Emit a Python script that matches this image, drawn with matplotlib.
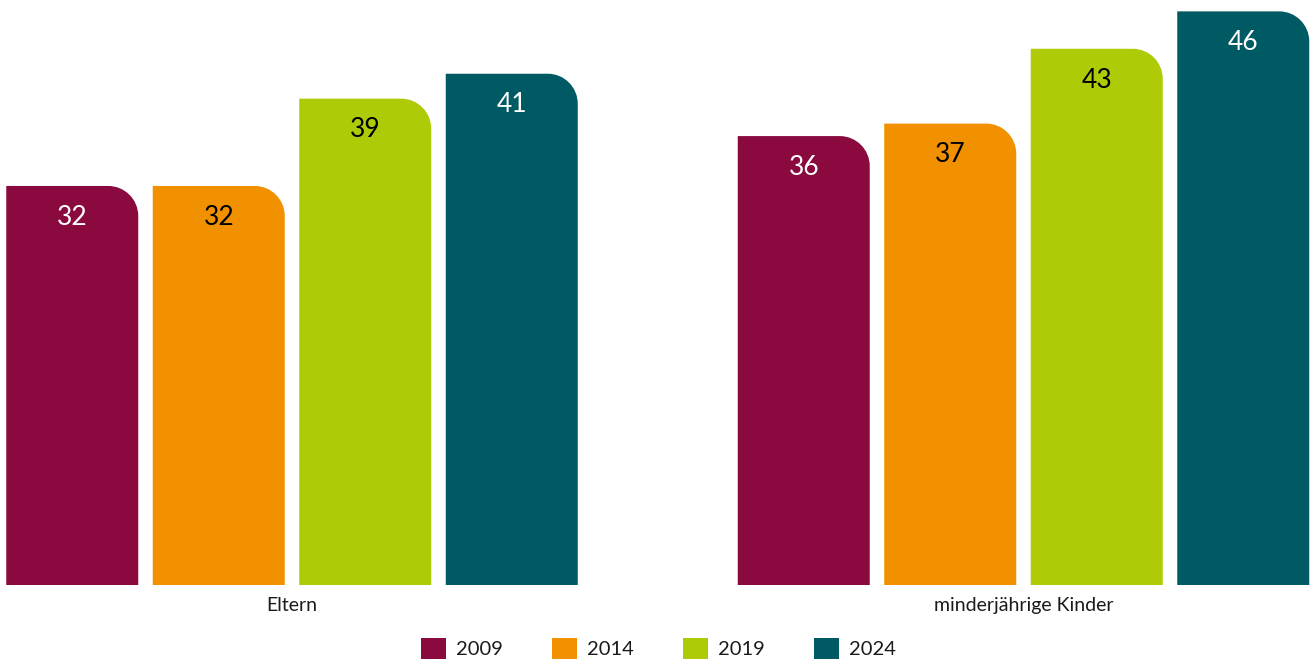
import numpy as np
import matplotlib

matplotlib.use("Agg")
import matplotlib.pyplot as plt
from matplotlib.path import Path
from matplotlib.patches import PathPatch, Patch

plt.rcParams["font.family"] = ["Lato", "DejaVu Sans"]

# ---------------------------------------------------------------------------
# Data
# ---------------------------------------------------------------------------
categories = ["Eltern", "minderjährige Kinder"]
years = ["2009", "2014", "2019", "2024"]
values = {
    "2009": [32, 36],
    "2014": [32, 37],
    "2019": [39, 43],
    "2024": [41, 46],
}
colors = ["#8a0a3f", "#f29100", "#afcb08", "#005a64"]
label_colors = ["white", "black", "black", "white"]

# ---------------------------------------------------------------------------
# Layout
# ---------------------------------------------------------------------------
W, H, DPI = 1314, 661, 100
fig = plt.figure(figsize=(W / DPI, H / DPI), dpi=DPI)
base_px = 585
ax = fig.add_axes([0, (H - base_px) / H, 1, base_px / H])

px_per_unit_x = 731.5
ymax = 585 / 12.47
ax.set_xlim(-292 / px_per_unit_x, 1 + (W - 1023.5) / px_per_unit_x)
ax.set_ylim(0, ymax)
ax.axis("off")

step = 146.5 / px_per_unit_x
width = 132 / px_per_unit_x
radius_px = 30
rx = radius_px / px_per_unit_x
ry = radius_px / (base_px / ymax)
k = 0.5523


def rounded_bar(x0, w, h, color):
    x1 = x0 + w
    verts = [
        (x0, 0), (x0, h), (x1 - rx, h),
        (x1 - rx + k * rx, h), (x1, h - ry + k * ry), (x1, h - ry),
        (x1, 0), (x0, 0),
    ]
    codes = [Path.MOVETO, Path.LINETO, Path.LINETO,
             Path.CURVE4, Path.CURVE4, Path.CURVE4,
             Path.LINETO, Path.CLOSEPOLY]
    ax.add_patch(PathPatch(Path(verts, codes), facecolor=color,
                           edgecolor="none"))


centers = np.arange(len(categories))
for i, yr in enumerate(years):
    offset = (i - 1.5) * step
    for c, v in zip(centers, values[yr]):
        x0 = c + offset - width / 2
        rounded_bar(x0, width, v, colors[i])
        ax.annotate(str(v), (c + offset, v), xytext=(0, -22.5),
                    textcoords="offset points", ha="center", va="center",
                    fontsize=19, color=label_colors[i])

for c, name in zip(centers, categories):
    ax.annotate(name, (c, 0), xytext=(0, -14.5), textcoords="offset points",
                ha="center", va="center", fontsize=14, color="#1a1a1a")

handles = [Patch(facecolor=col, edgecolor="none", label=yr)
           for yr, col in zip(years, colors)]
fig.legend(handles=handles, loc="center", bbox_to_anchor=(0.501, 0.019),
           ncol=4, frameon=False, fontsize=14.5, handlelength=1.25,
           handleheight=1.2, handletextpad=0.5, columnspacing=2.43,
           borderpad=0, labelcolor="#1a1a1a")

fig.savefig("out.png", dpi=DPI)
